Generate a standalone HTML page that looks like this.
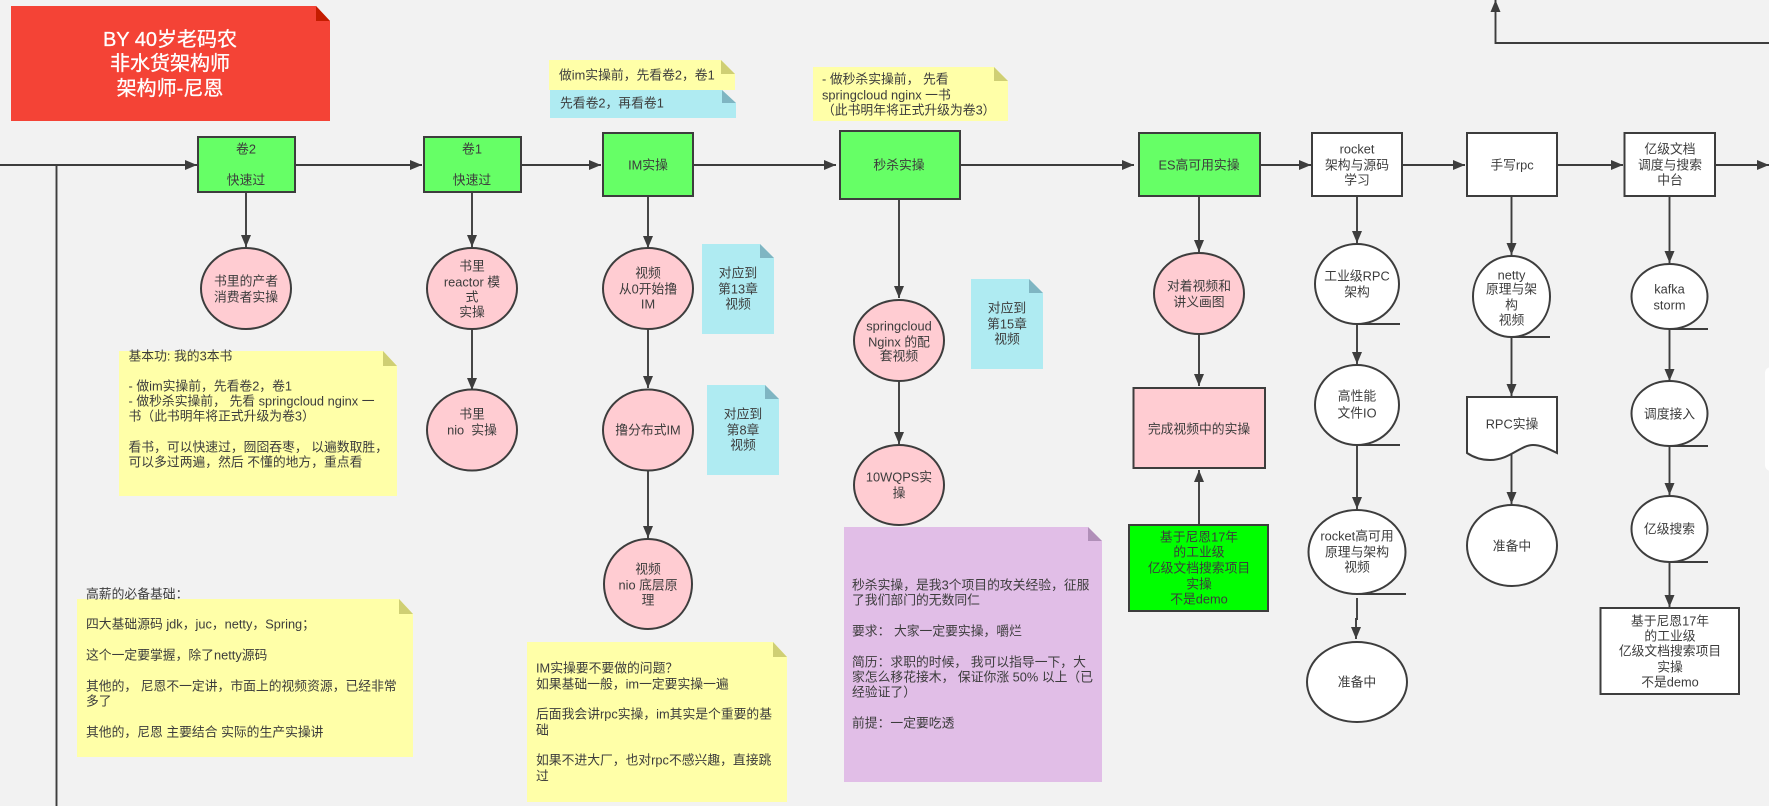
<!DOCTYPE html>
<html><head><meta charset="utf-8"><style>
html,body{margin:0;padding:0;background:#f2f2f2;width:1769px;height:806px;overflow:hidden}
svg{display:block}
text{font-family:"Liberation Sans","WenQuanYi Zen Hei","Noto Sans CJK SC",sans-serif;font-size:12.8px;fill:#3c3c3c;dominant-baseline:central}
.c{text-anchor:middle}
.ln{fill:none;stroke:#3d3d3d;stroke-width:1.9}
.sh{stroke:#3d3d3d;stroke-width:2}
.g{fill:#66ff66}.p{fill:#ffccd2}.w{fill:#fff}
.y{fill:#ffffa8}.b{fill:#afebf2}.v{fill:#e1bee7}
.fy{fill:#cfcf74}.fb{fill:#7fb5c2}.fv{fill:#b08fb8}
.t{font-size:20px;fill:#fff;stroke:#fff;stroke-width:.3}
</style></head><body>
<svg width="1769" height="806" viewBox="0 0 1769 806" xmlns="http://www.w3.org/2000/svg">
<defs>
<marker id="a" markerUnits="userSpaceOnUse" markerWidth="12" markerHeight="11" refX="12" refY="5.500" orient="auto"><path d="M0,0.5 L12,5.5 L0,10.5 z" fill="#3d3d3d"/></marker>
</defs>
<rect width="1769" height="806" fill="#f2f2f2"/>

<!-- right edge panel -->
<rect x="1765" y="367" width="20" height="104" rx="6" fill="#fff"/>

<!-- title note -->
<path d="M11,6 H316 L330,21 V121 H11 z" fill="#f44336"/>
<path d="M316,6 L330,21 H316 z" fill="#c41c00"/>
<text class="c t" x="170" y="40">BY 40岁老码农</text>
<text class="c t" x="170" y="64">非水货架构师</text>
<text class="c t" x="170" y="89">架构师-尼恩</text>

<!-- connectors -->
<path class="ln" d="M0,165 H197" marker-end="url(#a)"/>
<path class="ln" d="M56.5,165 V806"/>
<path class="ln" d="M295,165 H422" marker-end="url(#a)"/>
<path class="ln" d="M521,165 H601" marker-end="url(#a)"/>
<path class="ln" d="M693,165 H836" marker-end="url(#a)"/>
<path class="ln" d="M960,165 H1134" marker-end="url(#a)"/>
<path class="ln" d="M1260,165 H1311" marker-end="url(#a)"/>
<path class="ln" d="M1402,165 H1465" marker-end="url(#a)"/>
<path class="ln" d="M1557,165 H1623" marker-end="url(#a)"/>
<path class="ln" d="M1715,165 H1769" marker-end="url(#a)"/>
<path class="ln" d="M1769,43 H1495.5 V0" marker-end="url(#a)"/>
<path class="ln" d="M246,192 V247" marker-end="url(#a)"/>
<path class="ln" d="M472,192 V247" marker-end="url(#a)"/>
<path class="ln" d="M472,329 V390" marker-end="url(#a)"/>
<path class="ln" d="M648,196 V248" marker-end="url(#a)"/>
<path class="ln" d="M648,329 V388" marker-end="url(#a)"/>
<path class="ln" d="M648,470 V538" marker-end="url(#a)"/>
<path class="ln" d="M899,199 V298" marker-end="url(#a)"/>
<path class="ln" d="M899,381 V444" marker-end="url(#a)"/>
<path class="ln" d="M1199,196 V252" marker-end="url(#a)"/>
<path class="ln" d="M1199,334 V386" marker-end="url(#a)"/>
<path class="ln" d="M1199,525 V470" marker-end="url(#a)"/>
<path class="ln" d="M1357,196 V243" marker-end="url(#a)"/>
<path class="ln" d="M1357,324 V364" marker-end="url(#a)"/>
<path class="ln" d="M1357,445 V509" marker-end="url(#a)"/>
<path class="ln" d="M1357,598 V619 H1356 V639" marker-end="url(#a)"/>
<path class="ln" d="M1511.5,196 V255" marker-end="url(#a)"/>
<path class="ln" d="M1511.5,337 V396" marker-end="url(#a)"/>
<path class="ln" d="M1511.5,453 V504" marker-end="url(#a)"/>
<path class="ln" d="M1669.5,196 V263" marker-end="url(#a)"/>
<path class="ln" d="M1669.5,329 V381" marker-end="url(#a)"/>
<path class="ln" d="M1669.5,446 V495" marker-end="url(#a)"/>
<path class="ln" d="M1669.5,562 V607" marker-end="url(#a)"/>

<!-- green boxes -->
<rect class="g sh" x="198" y="137" width="97" height="55"/>
<text class="c" x="246" y="149">卷2</text>
<text class="c" x="246" y="180">快速过</text>
<rect class="g sh" x="424" y="137" width="97" height="55"/>
<text class="c" x="472" y="149">卷1</text>
<text class="c" x="472" y="180">快速过</text>
<rect class="g sh" x="603" y="133" width="90" height="63"/>
<text class="c" x="648" y="165">IM实操</text>
<rect class="g sh" x="840" y="131" width="120" height="68"/>
<text class="c" x="899" y="165">秒杀实操</text>
<rect class="g sh" x="1139" y="133" width="121" height="63"/>
<text class="c" x="1199" y="165">ES高可用实操</text>

<!-- white boxes -->
<rect class="w sh" x="1312" y="133" width="90" height="63"/>
<text class="c" x="1357" y="149">rocket</text>
<text class="c" x="1357" y="165">架构与源码</text>
<text class="c" x="1357" y="180">学习</text>
<rect class="w sh" x="1467" y="133" width="90" height="63"/>
<text class="c" x="1512" y="165">手写rpc</text>
<rect class="w sh" x="1624.5" y="133" width="90.5" height="63"/>
<text class="c" x="1670" y="149">亿级文档</text>
<text class="c" x="1670" y="165">调度与搜索</text>
<text class="c" x="1670" y="180">中台</text>

<!-- pink circles -->
<ellipse class="p sh" cx="246" cy="288.5" rx="45" ry="40.5"/>
<text class="c" x="246" y="281">书里的产者</text>
<text class="c" x="246" y="297">消费者实操</text>
<ellipse class="p sh" cx="472" cy="288.5" rx="45" ry="40.5"/>
<text class="c" x="472" y="266">书里</text>
<text class="c" x="472" y="282">reactor 模</text>
<text class="c" x="472" y="297">式</text>
<text class="c" x="472" y="312">实操</text>
<ellipse class="p sh" cx="472" cy="430" rx="45" ry="40.5"/>
<text class="c" x="472" y="414">书里</text>
<text class="c" x="472" y="430">nio&#160;&#160;实操</text>
<ellipse class="p sh" cx="648" cy="288.5" rx="45" ry="40.5"/>
<text class="c" x="648" y="273">视频</text>
<text class="c" x="648" y="289">从0开始撸</text>
<text class="c" x="648" y="304">IM</text>
<ellipse class="p sh" cx="648" cy="430" rx="45" ry="40.5"/>
<text class="c" x="648" y="430">撸分布式IM</text>
<ellipse class="p sh" cx="648" cy="584" rx="44" ry="45"/>
<text class="c" x="648" y="569">视频</text>
<text class="c" x="648" y="585">nio 底层原</text>
<text class="c" x="648" y="600">理</text>
<ellipse class="p sh" cx="899" cy="340.5" rx="45" ry="40.5"/>
<text class="c" x="899" y="326">springcloud</text>
<text class="c" x="899" y="342">Nginx 的配</text>
<text class="c" x="899" y="356">套视频</text>
<ellipse class="p sh" cx="899" cy="485" rx="45" ry="40"/>
<text class="c" x="899" y="477">10WQPS实</text>
<text class="c" x="899" y="493">操</text>
<ellipse class="p sh" cx="1199" cy="293.5" rx="45" ry="40.5"/>
<text class="c" x="1199" y="286">对着视频和</text>
<text class="c" x="1199" y="302">讲义画图</text>
<rect class="p sh" x="1133.5" y="388" width="131.5" height="80"/>
<text class="c" x="1199" y="429">完成视频中的实操</text>
<rect class="sh" x="1129" y="525" width="139" height="86" fill="#00ff00"/>
<text class="c" x="1199" y="537">基于尼恩17年</text>
<text class="c" x="1199" y="552">的工业级</text>
<text class="c" x="1199" y="568">亿级文档搜索项目</text>
<text class="c" x="1199" y="584">实操</text>
<text class="c" x="1199" y="599">不是demo</text>

<!-- white tape circles -->
<ellipse class="w sh" cx="1357" cy="284" rx="42" ry="40"/>
<path class="ln" d="M1357,324 H1400"/>
<text class="c" x="1357" y="276">工业级RPC</text>
<text class="c" x="1357" y="292">架构</text>
<ellipse class="w sh" cx="1357" cy="405" rx="42" ry="40"/>
<path class="ln" d="M1357,445 H1400"/>
<text class="c" x="1357" y="396">高性能</text>
<text class="c" x="1357" y="413">文件IO</text>
<ellipse class="w sh" cx="1357" cy="552" rx="48.5" ry="42"/>
<path class="ln" d="M1357,594 H1406"/>
<text class="c" x="1357" y="536">rocket高可用</text>
<text class="c" x="1357" y="552">原理与架构</text>
<text class="c" x="1357" y="567">视频</text>
<ellipse class="w sh" cx="1357" cy="682" rx="50" ry="40"/>
<text class="c" x="1357" y="682">准备中</text>
<ellipse class="w sh" cx="1511.5" cy="296.5" rx="38.5" ry="40.5"/>
<path class="ln" d="M1511.5,337 H1550"/>
<text class="c" x="1511.5" y="275">netty</text>
<text class="c" x="1511.5" y="289">原理与架</text>
<text class="c" x="1511.5" y="305">构</text>
<text class="c" x="1511.5" y="320">视频</text>
<path class="w sh" d="M1467,397 H1557 V453 C1547,448 1540,445 1533,445 C1520,445 1510,460 1490,460 C1480,460 1473,457 1467,453 z"/>
<text class="c" x="1512" y="424">RPC实操</text>
<ellipse class="w sh" cx="1512" cy="545.5" rx="45" ry="40.5"/>
<text class="c" x="1512" y="546">准备中</text>
<ellipse class="w sh" cx="1669.5" cy="296.5" rx="38" ry="32.5"/>
<path class="ln" d="M1669.5,329 H1708"/>
<text class="c" x="1669.5" y="289">kafka</text>
<text class="c" x="1669.5" y="305">storm</text>
<ellipse class="w sh" cx="1669.5" cy="413.5" rx="38" ry="32.5"/>
<path class="ln" d="M1669.5,446 H1708"/>
<text class="c" x="1669.5" y="414">调度接入</text>
<ellipse class="w sh" cx="1669.5" cy="529" rx="38" ry="33"/>
<path class="ln" d="M1669.5,562 H1708"/>
<text class="c" x="1669.5" y="529">亿级搜索</text>
<rect class="w sh" x="1600.5" y="608" width="138.5" height="86"/>
<text class="c" x="1670" y="621">基于尼恩17年</text>
<text class="c" x="1670" y="636">的工业级</text>
<text class="c" x="1670" y="651">亿级文档搜索项目</text>
<text class="c" x="1670" y="667">实操</text>
<text class="c" x="1670" y="682">不是demo</text>

<!-- notes -->
<path class="y" d="M549,60 H721 L735,74 V90 H549 z"/><path class="fy" d="M721,60 L735,74 H721 z"/>
<text x="559" y="75">做im实操前，先看卷2，卷1</text>
<path class="b" d="M550,90 H722 L736,103 V118 H550 z"/><path class="fb" d="M722,90 L736,103 H722 z"/>
<text x="560" y="103">先看卷2，再看卷1</text>
<path class="y" d="M813,67 H994 L1008,81 V121 H813 z"/><path class="fy" d="M994,67 L1008,81 H994 z"/>
<text x="822" y="79">- 做秒杀实操前， 先看</text>
<text x="822" y="95">springcloud nginx 一书</text>
<text x="822" y="110">（此书明年将正式升级为卷3）</text>

<path class="b" d="M702,244 H760 L774,258 V334 H702 z"/><path class="fb" d="M760,244 L774,258 H760 z"/>
<text class="c" x="738" y="273">对应到</text><text class="c" x="738" y="289">第13章</text><text class="c" x="738" y="304">视频</text>
<path class="b" d="M707,385 H765 L779,399 V475 H707 z"/><path class="fb" d="M765,385 L779,399 H765 z"/>
<text class="c" x="743" y="414">对应到</text><text class="c" x="743" y="430">第8章</text><text class="c" x="743" y="445">视频</text>
<path class="b" d="M971,279 H1029 L1043,293 V369 H971 z"/><path class="fb" d="M1029,279 L1043,293 H1029 z"/>
<text class="c" x="1007" y="308">对应到</text><text class="c" x="1007" y="324">第15章</text><text class="c" x="1007" y="339">视频</text>

<path class="y" d="M119,351 H383 L397,366 V496 H119 z"/><path class="fy" d="M383,351 L397,366 H383 z"/>
<text x="128.500" y="356">基本功: 我的3本书</text>
<text x="128.500" y="386">- 做im实操前，先看卷2，卷1</text>
<text x="128.500" y="401">- 做秒杀实操前， 先看 springcloud nginx 一</text>
<text x="128.500" y="416">书（此书明年将正式升级为卷3）</text>
<text x="128.500" y="447">看书，可以快速过，囫囵吞枣， 以遍数取胜，</text>
<text x="128.500" y="462">可以多过两遍，然后 不懂的地方，重点看</text>

<path class="y" d="M77,599 H399 L413,614 V757 H77 z"/><path class="fy" d="M399,599 L413,614 H399 z"/>
<text x="86" y="594">高薪的必备基础：</text>
<text x="86" y="624">四大基础源码 jdk，juc，netty，Spring；</text>
<text x="86" y="655">这个一定要掌握，除了netty源码</text>
<text x="86" y="686">其他的， 尼恩不一定讲，市面上的视频资源，已经非常</text>
<text x="86" y="701">多了</text>
<text x="86" y="732">其他的，尼恩 主要结合 实际的生产实操讲</text>

<path class="y" d="M527,642 H773 L787,657 V802 H527 z"/><path class="fy" d="M773,642 L787,657 H773 z"/>
<text x="536" y="668">IM实操要不要做的问题？</text>
<text x="536" y="684">如果基础一般，im一定要实操一遍</text>
<text x="536" y="714">后面我会讲rpc实操，im其实是个重要的基</text>
<text x="536" y="730">础</text>
<text x="536" y="760">如果不进大厂，也对rpc不感兴趣，直接跳</text>
<text x="536" y="776">过</text>

<path class="v" d="M844,527 H1088 L1102,541 V782 H844 z"/><path class="fv" d="M1088,527 L1102,541 H1088 z"/>
<text x="852" y="585">秒杀实操，是我3个项目的攻关经验，征服</text>
<text x="852" y="600">了我们部门的无数同仁</text>
<text x="852" y="631">要求： 大家一定要实操，嚼烂</text>
<text x="852" y="662">简历：求职的时候， 我可以指导一下，大</text>
<text x="852" y="677">家怎么移花接木， 保证你涨 50% 以上（已</text>
<text x="852" y="692">经验证了）</text>
<text x="852" y="723">前提：一定要吃透</text>
</svg>
</body></html>
